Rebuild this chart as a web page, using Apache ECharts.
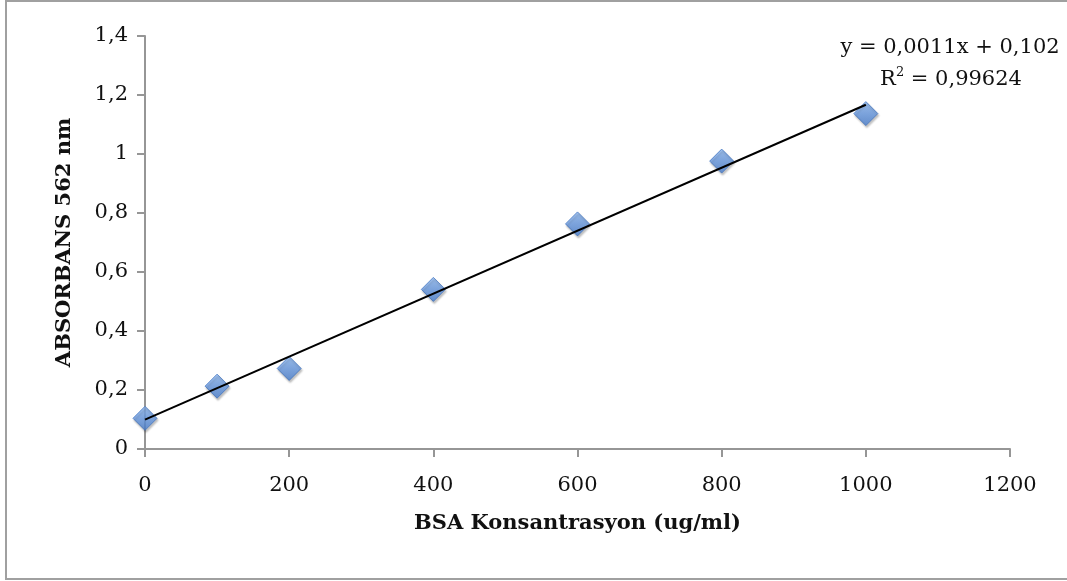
<!DOCTYPE html>
<html>
<head>
<meta charset="utf-8">
<script src="https://cdn.jsdelivr.net/npm/echarts@6/dist/echarts.min.js"></script>
<style>
  html, body { margin: 0; padding: 0; background: #fff; }
  #chart { width: 1067px; height: 581px; }
</style>
</head>
<body>
<div id="chart"></div>
<script>
// BSA standard curve: concentration (ug/ml) vs absorbance at 562 nm
const concentrations = [0, 100, 200, 400, 600, 800, 1000];
const absorbances = [0.104, 0.213, 0.273, 0.541, 0.763, 0.976, 1.137];
const equationText = 'y = 0,0011x + 0,102';
const rSquaredText = '0,99624';

const FONT = '"DejaVu Serif", "Liberation Serif", serif';

// least-squares linear trendline through the measured points
function linearFit(xs, ys) {
  const n = xs.length;
  const mx = xs.reduce((a, b) => a + b, 0) / n;
  const my = ys.reduce((a, b) => a + b, 0) / n;
  let sxy = 0, sxx = 0;
  for (let i = 0; i < n; i++) {
    sxy += (xs[i] - mx) * (ys[i] - my);
    sxx += (xs[i] - mx) * (xs[i] - mx);
  }
  const slope = sxy / sxx;
  return { slope, intercept: my - slope * mx };
}
const fit = linearFit(concentrations, absorbances);
const xFirst = concentrations[0];
const xLast = concentrations[concentrations.length - 1];
const trendData = [
  [xFirst, fit.intercept + fit.slope * xFirst],
  [xLast, fit.intercept + fit.slope * xLast]
];

const points = concentrations.map((x, i) => [x, absorbances[i]]);
const commaDecimal = v => String(+v.toFixed(2)).replace('.', ',');
const plainNumber = v => String(v);

const axisLineStyle = { color: '#969696', width: 2 };
const labelColor = '#111';

const chart = echarts.init(document.getElementById('chart'), null, { renderer: 'canvas' });
chart.setOption({
  animation: false,
  backgroundColor: '#fff',
  grid: { left: 145, right: 57, top: 36, bottom: 132, containLabel: false },
  xAxis: {
    type: 'value',
    min: 0, max: 1200, interval: 200,
    name: 'BSA Konsantrasyon (ug/ml)',
    nameLocation: 'middle',
    nameGap: 64,
    nameTextStyle: { fontFamily: FONT, fontWeight: 'bold', fontSize: 21, color: labelColor },
    axisLine: { lineStyle: axisLineStyle },
    axisTick: { show: true, length: 8, lineStyle: axisLineStyle },
    axisLabel: { fontFamily: FONT, fontSize: 21, color: labelColor, margin: 26, formatter: plainNumber },
    splitLine: { show: false }
  },
  yAxis: {
    type: 'value',
    min: 0, max: 1.4, interval: 0.2,
    name: 'ABSORBANS 562 nm',
    nameLocation: 'middle',
    nameGap: 70,
    nameRotate: 90,
    nameTextStyle: { fontFamily: FONT, fontWeight: 'bold', fontSize: 21, color: labelColor },
    axisLine: { show: true, lineStyle: axisLineStyle },
    axisTick: { show: true, length: 8, lineStyle: axisLineStyle },
    axisLabel: { fontFamily: FONT, fontSize: 21, color: labelColor, margin: 17, formatter: commaDecimal },
    splitLine: { show: false }
  },
  series: [
    {
      name: 'BSA',
      type: 'scatter',
      data: points,
      symbol: 'diamond',
      symbolSize: [24, 24],
      z: 2,
      itemStyle: {
        color: new echarts.graphic.LinearGradient(0, 0, 0, 1, [
          { offset: 0, color: '#8fb9f0' },
          { offset: 0.5, color: '#6a9be2' },
          { offset: 1, color: '#4a7fcd' }
        ]),
        borderColor: '#4376c0',
        borderWidth: 1,
        shadowBlur: 2,
        shadowColor: 'rgba(0,0,0,0.3)',
        shadowOffsetX: 1,
        shadowOffsetY: 2
      }
    },
    {
      name: 'Trend',
      type: 'line',
      data: trendData,
      symbol: 'none',
      z: 3,
      lineStyle: { color: '#000', width: 2 },
      silent: true
    }
  ],
  graphic: [
    {
      type: 'rect',
      shape: { x: 6, y: 1, width: 1062, height: 578 },
      style: { fill: null, stroke: '#a0a0a0', lineWidth: 2 },
      silent: true
    },
    {
      type: 'text',
      x: 950,
      y: 48,
      style: {
        text: equationText,
        fontFamily: FONT,
        fontSize: 21,
        fill: labelColor,
        align: 'center',
        verticalAlign: 'middle'
      }
    },
    {
      type: 'text',
      x: 951,
      y: 80,
      style: {
        text: '{n|R}{sup|2}{n| = ' + rSquaredText + '}',
        fontFamily: FONT,
        fontSize: 21,
        fill: labelColor,
        align: 'center',
        verticalAlign: 'middle',
        rich: {
          n: { fontFamily: FONT, fontSize: 21, fill: labelColor, lineHeight: 28 },
          sup: { fontFamily: FONT, fontSize: 13, fill: labelColor, verticalAlign: 'top', lineHeight: 28 }
        }
      }
    }
  ]
});
</script>
</body>
</html>
